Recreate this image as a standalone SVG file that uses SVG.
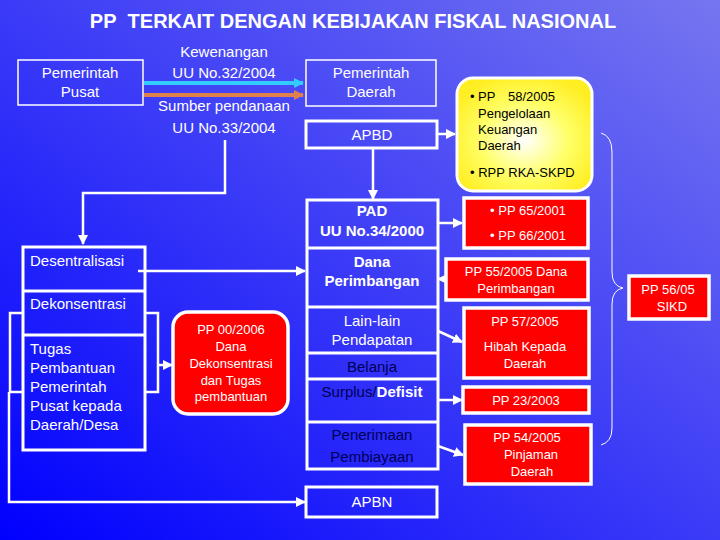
<svg xmlns="http://www.w3.org/2000/svg" width="720" height="540" viewBox="0 0 720 540">
<defs>
<linearGradient id="bg" x1="0" y1="1" x2="1" y2="0">
<stop offset="0" stop-color="#0000ff"/>
<stop offset="1" stop-color="#7676f0"/>
</linearGradient>
<radialGradient id="yel" cx="0.5" cy="0.55" r="0.6">
<stop offset="0" stop-color="#ffffff"/>
<stop offset="0.55" stop-color="#ffff66"/>
<stop offset="1" stop-color="#ffee22"/>
</radialGradient>
<marker id="aw" viewBox="0 0 10 10" refX="9" refY="5" markerWidth="4" markerHeight="4" orient="auto" markerUnits="strokeWidth">
<path d="M0,0 L10,5 L0,10 z" fill="#ffffff"/>
</marker>
<marker id="ac" viewBox="0 0 10 10" refX="9" refY="5" markerWidth="2.5" markerHeight="2.5" orient="auto" markerUnits="strokeWidth">
<path d="M0,0 L10,5 L0,10 z" fill="#33ccff"/>
</marker>
<marker id="ao" viewBox="0 0 10 10" refX="9" refY="5" markerWidth="2.5" markerHeight="2.5" orient="auto" markerUnits="strokeWidth">
<path d="M0,0 L10,5 L0,10 z" fill="#e0804a"/>
</marker>
</defs>
<style>
text{font-family:"Liberation Sans",Arial,sans-serif;fill:#ffffff}
.t15{font-size:15px}
.t13{font-size:13px}
.c{text-anchor:middle}
.b{font-weight:bold}
.dk{fill:#000055}
.blk{fill:#000000}
.thin{fill:none;stroke:#ffffff;stroke-width:1.5}
.box{fill:none;stroke:#ffffff;stroke-width:3}
.red{fill:#ff0000;stroke:#ffffff;stroke-width:3.5}
.ln{fill:none;stroke:#ffffff;stroke-width:2.5}
</style>
<rect width="720" height="540" fill="url(#bg)"/>
<text x="353" y="28" class="c b" style="font-size:20px">PP&#160; TERKAIT DENGAN KEBIJAKAN FISKAL NASIONAL</text>

<g id="connectors">
<line x1="144" y1="83" x2="303" y2="83" stroke="#33ccff" stroke-width="4" marker-end="url(#ac)"/>
<line x1="144" y1="95" x2="303" y2="95" stroke="#e0804a" stroke-width="4" marker-end="url(#ao)"/>
<path class="ln" d="M225,140 V193 H83 V244" marker-end="url(#aw)"/>
<path class="ln" d="M373,148 V199" marker-end="url(#aw)"/>
<path class="ln" d="M437,134 H455" marker-end="url(#aw)"/>
<path class="ln" d="M138,271 H305" marker-end="url(#aw)"/>
<path class="ln" d="M23,313 H10 V392 H23"/>
<path class="ln" d="M9,392 V502 H305" marker-end="url(#aw)"/>
<path class="ln" d="M145,313 H158 V392 H145"/>
<path class="ln" d="M158,365 H172" marker-end="url(#aw)"/>
<path class="ln" d="M437,223 H462" marker-end="url(#aw)"/>
<path class="ln" d="M446,279 H438" marker-end="url(#aw)"/>
<path class="ln" d="M438,331 L462,342" marker-end="url(#aw)"/>
<path class="ln" d="M437,400 H462" marker-end="url(#aw)"/>
<path class="ln" d="M438,446 L463,455" marker-end="url(#aw)"/>
<path fill="none" stroke="#ffffff" stroke-width="1" d="M601,133 Q612,136 612,152 V272 Q612,286 623,288 Q612,290 612,304 V428 Q612,442 601,445"/>
</g>

<g id="pemerintah-pusat">
<rect class="thin" x="18" y="60" width="125" height="45"/>
<text class="t15 c" x="80" y="78">Pemerintah</text>
<text class="t15 c" x="80" y="97">Pusat</text>
</g>

<g id="label-kewenangan">
<text class="t15 c" x="224" y="57">Kewenangan</text>
<text class="t15 c" x="224" y="78">UU No.32/2004</text>
</g>
<g id="label-sumber">
<text class="t15 c" x="224" y="111">Sumber pendanaan</text>
<text class="t15 c" x="224" y="133">UU No.33/2004</text>
</g>

<g id="pemerintah-daerah">
<rect class="thin" x="306" y="60" width="130" height="46"/>
<text class="t15 c" x="371" y="78">Pemerintah</text>
<text class="t15 c" x="371" y="97">Daerah</text>
</g>

<g id="apbd">
<rect class="box" x="306" y="121" width="131" height="27"/>
<text class="t15 c" x="372" y="140">APBD</text>
</g>

<g id="pp58">
<rect x="457" y="78" width="135" height="113" rx="16" fill="url(#yel)" stroke="#ffffff" stroke-width="3"/>
<text class="t13 blk" x="470" y="101">•</text>
<text class="t13 blk" x="478" y="101">PP</text>
<text class="t13 blk" x="508" y="101">58/2005</text>
<text class="t13 blk" x="478" y="118">Pengelolaan</text>
<text class="t13 blk" x="478" y="134">Keuangan</text>
<text class="t13 blk" x="478" y="150">Daerah</text>
<text class="t13 blk" x="470" y="177">• RPP RKA-SKPD</text>
</g>

<g id="left-stack">
<rect class="box" x="23" y="247" width="122" height="203"/>
<line class="box" x1="23" y1="291" x2="145" y2="291"/>
<line class="box" x1="23" y1="335" x2="145" y2="335"/>
<text class="t15" x="30" y="266">Desentralisasi</text>
<text class="t15" x="30" y="309">Dekonsentrasi</text>
<text class="t15" x="30" y="354">Tugas</text>
<text class="t15" x="30" y="373">Pembantuan</text>
<text class="t15" x="30" y="392">Pemerintah</text>
<text class="t15" x="30" y="411">Pusat kepada</text>
<text class="t15" x="30" y="430">Daerah/Desa</text>
</g>

<g id="pp00">
<rect class="red" x="173" y="312" width="115" height="102" rx="15"/>
<text class="t13 c" x="231" y="334">PP 00/2006</text>
<text class="t13 c" x="231" y="351">Dana</text>
<text class="t13 c" x="231" y="368">Dekonsentrasi</text>
<text class="t13 c" x="231" y="385">dan Tugas</text>
<text class="t13 c" x="231" y="401">pembantuan</text>
</g>

<g id="middle-stack">
<rect class="box" x="307" y="200" width="131" height="269"/>
<line class="box" x1="307" y1="248" x2="438" y2="248"/>
<line class="box" x1="307" y1="307" x2="438" y2="307"/>
<line class="box" x1="307" y1="353" x2="438" y2="353"/>
<line class="box" x1="307" y1="379" x2="438" y2="379"/>
<line class="box" x1="307" y1="422" x2="438" y2="422"/>
<text class="t15 c b" x="372" y="216">PAD</text>
<text class="t15 c b" x="372" y="236">UU No.34/2000</text>
<text class="t15 c b" x="372" y="267">Dana</text>
<text class="t15 c b" x="372" y="286">Perimbangan</text>
<text class="t15 c" x="372" y="326">Lain-lain</text>
<text class="t15 c" x="372" y="345">Pendapatan</text>
<text class="t15 c dk" x="372" y="372">Belanja</text>
<text class="t15 c" x="372" y="397"><tspan class="dk">Surplus/</tspan><tspan class="b">Defisit</tspan></text>
<text class="t15 c dk" x="372" y="440">Penerimaan</text>
<text class="t15 c dk" x="372" y="462">Pembiayaan</text>
</g>

<g id="apbn">
<rect class="box" x="306" y="487" width="131" height="30"/>
<text class="t15 c" x="372" y="507">APBN</text>
</g>

<g id="pp65">
<rect class="red" x="464" y="198" width="124" height="50"/>
<text class="t13 c" x="528" y="215">• PP 65/2001</text>
<text class="t13 c" x="528" y="240">• PP 66/2001</text>
</g>
<g id="pp55">
<rect class="red" x="446" y="259" width="142" height="41"/>
<text class="t13 c" x="516" y="276">PP 55/2005 Dana</text>
<text class="t13 c" x="516" y="293">Perimbangan</text>
</g>
<g id="pp57">
<rect class="red" x="464" y="308" width="125" height="70"/>
<text class="t13 c" x="525" y="326">PP 57/2005</text>
<text class="t13 c" x="525" y="351">Hibah Kepada</text>
<text class="t13 c" x="525" y="368">Daerah</text>
</g>
<g id="pp23">
<rect class="red" x="463" y="387" width="126" height="26"/>
<text class="t13 c" x="526" y="405">PP 23/2003</text>
</g>
<g id="pp54">
<rect class="red" x="465" y="425" width="126" height="59"/>
<text class="t13 c" x="527" y="442">PP 54/2005</text>
<text class="t13 c" x="531" y="459">Pinjaman</text>
<text class="t13 c" x="532" y="476">Daerah</text>
</g>
<g id="pp56">
<rect class="red" x="629" y="276" width="80" height="43"/>
<text class="t13 c" x="668" y="294">PP 56/05</text>
<text class="t13 c" x="672" y="311">SIKD</text>
</g>
</svg>
